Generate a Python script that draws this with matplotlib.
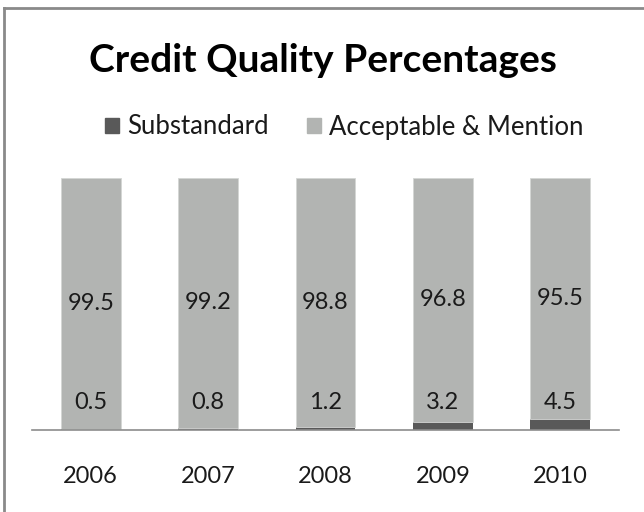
import matplotlib.pyplot as plt
import numpy as np
from matplotlib.lines import Line2D
from matplotlib.patches import Patch

years = ['2006', '2007', '2008', '2009', '2010']
substandard = [0.5, 0.8, 1.2, 3.2, 4.5]
acceptable = [99.5, 99.2, 98.8, 96.8, 95.5]

plt.rcParams['font.family'] = ['Lato', 'DejaVu Sans']

fig = plt.figure(figsize=(6.44, 5.12), dpi=100)
ax = fig.add_axes([32 / 644, 82 / 512, 587 / 644, 252 / 512])

x = np.arange(len(years))
dark = '#595959'
light = '#b2b4b2'
ax.bar(x, substandard, width=0.51, color=dark, label='Substandard')
ax.bar(x, acceptable, width=0.51, bottom=substandard, color=light,
       edgecolor='#d4d6d4', linewidth=0.6, label='Acceptable & Mention')

# value labels: substandard sits near the foot of each bar, the rest mid-segment
for xi, s, a in zip(x, substandard, acceptable):
    ax.text(xi, 11, f'{s:.1f}', ha='center', va='center', fontsize=17, color='#1a1a1a')
    ax.text(xi, s + a / 2, f'{a:.1f}', ha='center', va='center', fontsize=17, color='#1a1a1a')

ax.set_xlim(-0.5, len(years) - 0.5)
ax.set_ylim(0, 100)
ax.set_xticks(x)
ax.set_xticklabels(years, fontsize=17, color='#1a1a1a')
ax.tick_params(axis='x', length=0, pad=26)
ax.set_yticks([])
for side in ['top', 'right', 'left']:
    ax.spines[side].set_visible(False)
ax.spines['bottom'].set_color('#8c8c8c')
ax.spines['bottom'].set_linewidth(1.2)

fig.text(323 / 644, 1 - 60 / 512, 'Credit Quality Percentages', ha='center', va='center',
         fontsize=28, fontweight='bold', color='black')

handles = [Patch(color=dark), Patch(color=light)]
fig.legend(handles, ['Substandard', 'Acceptable & Mention'], loc='center',
           bbox_to_anchor=(344 / 644, 1 - 127 / 512), ncol=2, frameon=False,
           fontsize=18.5, handlelength=0.55, handleheight=0.55, handletextpad=0.3,
           columnspacing=1.5, labelcolor='#1a1a1a')

# chart frame (only top and left edges fall inside the canvas)
fig.add_artist(Line2D([4 / 644, 4 / 644], [0, 1 - 8 / 512], color='#8a8a8a', lw=2))
fig.add_artist(Line2D([4 / 644, 1], [1 - 8 / 512, 1 - 8 / 512], color='#8a8a8a', lw=2))

fig.savefig('out.png', dpi=100)
